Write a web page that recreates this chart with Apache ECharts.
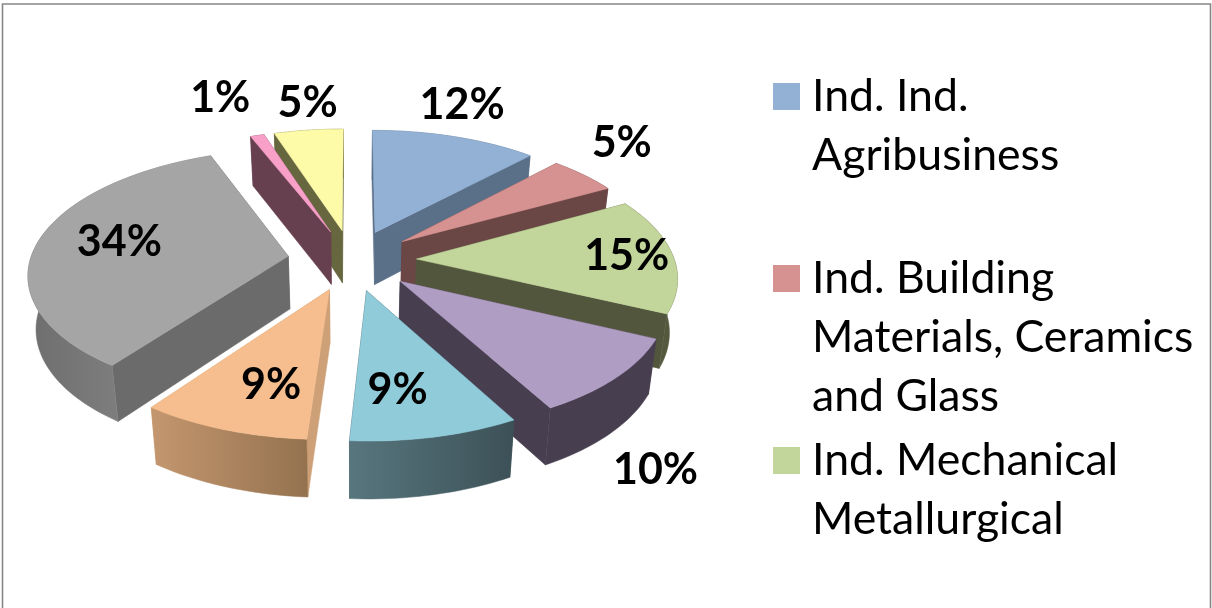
<!DOCTYPE html>
<html>
<head>
<meta charset="utf-8">
<style>html,body{margin:0;padding:0;background:#fff}#c{width:1212px;height:608px}</style>
<script src="https://cdn.jsdelivr.net/npm/echarts@6/dist/echarts.min.js"></script>
</head>
<body>
<div id="c"></div>
<script>
// ---- data ----
const categories = ['Ind. Ind. Agribusiness','Ind. Building Materials, Ceramics and Glass','Ind. Mechanical Metallurgical','Other 4','Other 5','Other 6','Other 7','Other 8','Other 9'];
const values = [12, 5, 15, 10, 9, 9, 34, 1, 5];
const legendLines = [['Ind. Ind.','Agribusiness'],['Ind. Building','Materials, Ceramics','and Glass'],['Ind. Mechanical','Metallurgical']];

// ---- styles and layout ----
const topColors  = ['#93B0D5','#D69291','#C2D59A','#B09DC3','#90CBDA','#F6BE8E','#A5A5A5','#F9A0C8','#FDFAA8'];
const sideColors = ['#5A6F88','#6A4645','#52563C','#473E50','#3C5157','#CDA077','#6B6B6B','#66404F','#66663F'];
const wallStops  = [
  ['#5A6F88','#5A6F88'],['#6A4645','#6A4645'],['#5C6244','#52563C'],['#473E50','#473E50'],
  ['#58767E','#3C5157'],['#C4976F','#94724F'],['#6E6E6E','#8E8E8E'],['#66404F','#66404F'],['#66663F','#66663F']
];
const labelNudge = [[7,-32],[38,-32],[-46,1],[39,93],[-38,-47],[48,-44],[81,1],[-37,-37],[-1,-27]];
const legendY = [97, 279, 461];
const G = {cx:352, cy:260, rx:258, ry:122, depth:53, explode:0.25, persp:0.13, bottomShrink:0.975};

const total = values.reduce((a,b)=>a+b,0);
const rad = d => d*Math.PI/180;
function proj(px, py, bottom){
  const s = 1/(1-G.persp*py);
  const k = bottom ? G.bottomShrink : 1;
  return [G.cx + px*G.rx*s*k, G.cy + py*G.ry*s + (bottom ? G.depth*Math.sqrt(s) : 0)];
}
// back-to-front rank from the mid angle of each slice
const mids = []; { let a=0; values.forEach(v=>{const sw=v/total*360; mids.push(a+sw/2); a+=sw;}); }
const order = mids.map((m,i)=>[-Math.cos(rad(m)),i]).sort((a,b)=>a[0]-b[0]).map(x=>x[1]);

function renderItem(params, api){
  const i = params.dataIndex;
  const val = api.value(0);
  let start = 0; for(let k=0;k<i;k++) start += values[k]/total*360;
  const sweep = val/total*360, mid = start+sweep/2;
  const ex = Math.sin(rad(mid))*G.explode, ey = -Math.cos(rad(mid))*G.explode;
  const arcT=[], arcB=[];
  const n = Math.max(2, Math.ceil(sweep/1.5));
  for(let j=0;j<=n;j++){
    const t = rad(start+sweep*j/n);
    const px = ex+Math.sin(t), py = ey-Math.cos(t);
    arcT.push(proj(px,py,false)); arcB.push(proj(px,py,true));
  }
  const aT = proj(ex,ey,false), aB = proj(ex,ey,true);
  const z = order.indexOf(i)*10;
  const side = sideColors[i];
  const grad = new echarts.graphic.LinearGradient(0,0,1,0,[{offset:0,color:wallStops[i][0]},{offset:1,color:wallStops[i][1]}]);
  const wallPts = arcT.concat(arcB.slice().reverse());
  const poly = (pts, fill, zz) => ({type:'polygon', z2:z+zz, shape:{points:pts}, style:{fill:fill, stroke:fill, lineWidth:0.5}});
  const lab = proj(ex+Math.sin(rad(mid)), ey-Math.cos(rad(mid)), false);
  return {type:'group', children:[
    poly([aT,arcT[0],arcB[0],aB], side, 0),
    poly([aT,arcT[n],arcB[n],aB], side, 0),
    poly(wallPts, grad, 1),
    poly([aT].concat(arcT), topColors[i], 2),
    {type:'text', z2:500, style:{text:Math.round(val/total*100)+'%', x:lab[0]+labelNudge[i][0], y:lab[1]+labelNudge[i][1],
      fill:'#000', font:'bold 43px Lato', textAlign:'center', textVerticalAlign:'middle'}}
  ]};
}

const legendGraphics = [];
legendLines.forEach((lines,i)=>{
  legendGraphics.push({type:'rect', left:773, top:legendY[i]-14, shape:{width:27,height:27}, style:{fill:topColors[i]}});
  lines.forEach((t,j)=>{
    legendGraphics.push({type:'text', x:812, y:legendY[i]+j*59, style:{text:t, fill:'#000', font:'44.6px Lato', textAlign:'left', textVerticalAlign:'middle'}});
  });
});
const frame = [
  {type:'polyline', shape:{points:[[2.5,608],[2.5,4],[1210.5,4],[1210.5,608]]}, style:{fill:'none', stroke:'#878787', lineWidth:1.6}}
];

const chart = echarts.init(document.getElementById('c'), null, {renderer:'canvas'});
chart.setOption({
  animation:false,
  backgroundColor:'#fff',
  graphic:{elements: frame.concat(legendGraphics)},
  series:[{
    type:'custom', coordinateSystem:'none', silent:true,
    renderItem: renderItem,
    encode:{value:0},
    data: values.map((v,i)=>({name:categories[i], value:[v]}))
  }]
});
</script>
</body>
</html>
